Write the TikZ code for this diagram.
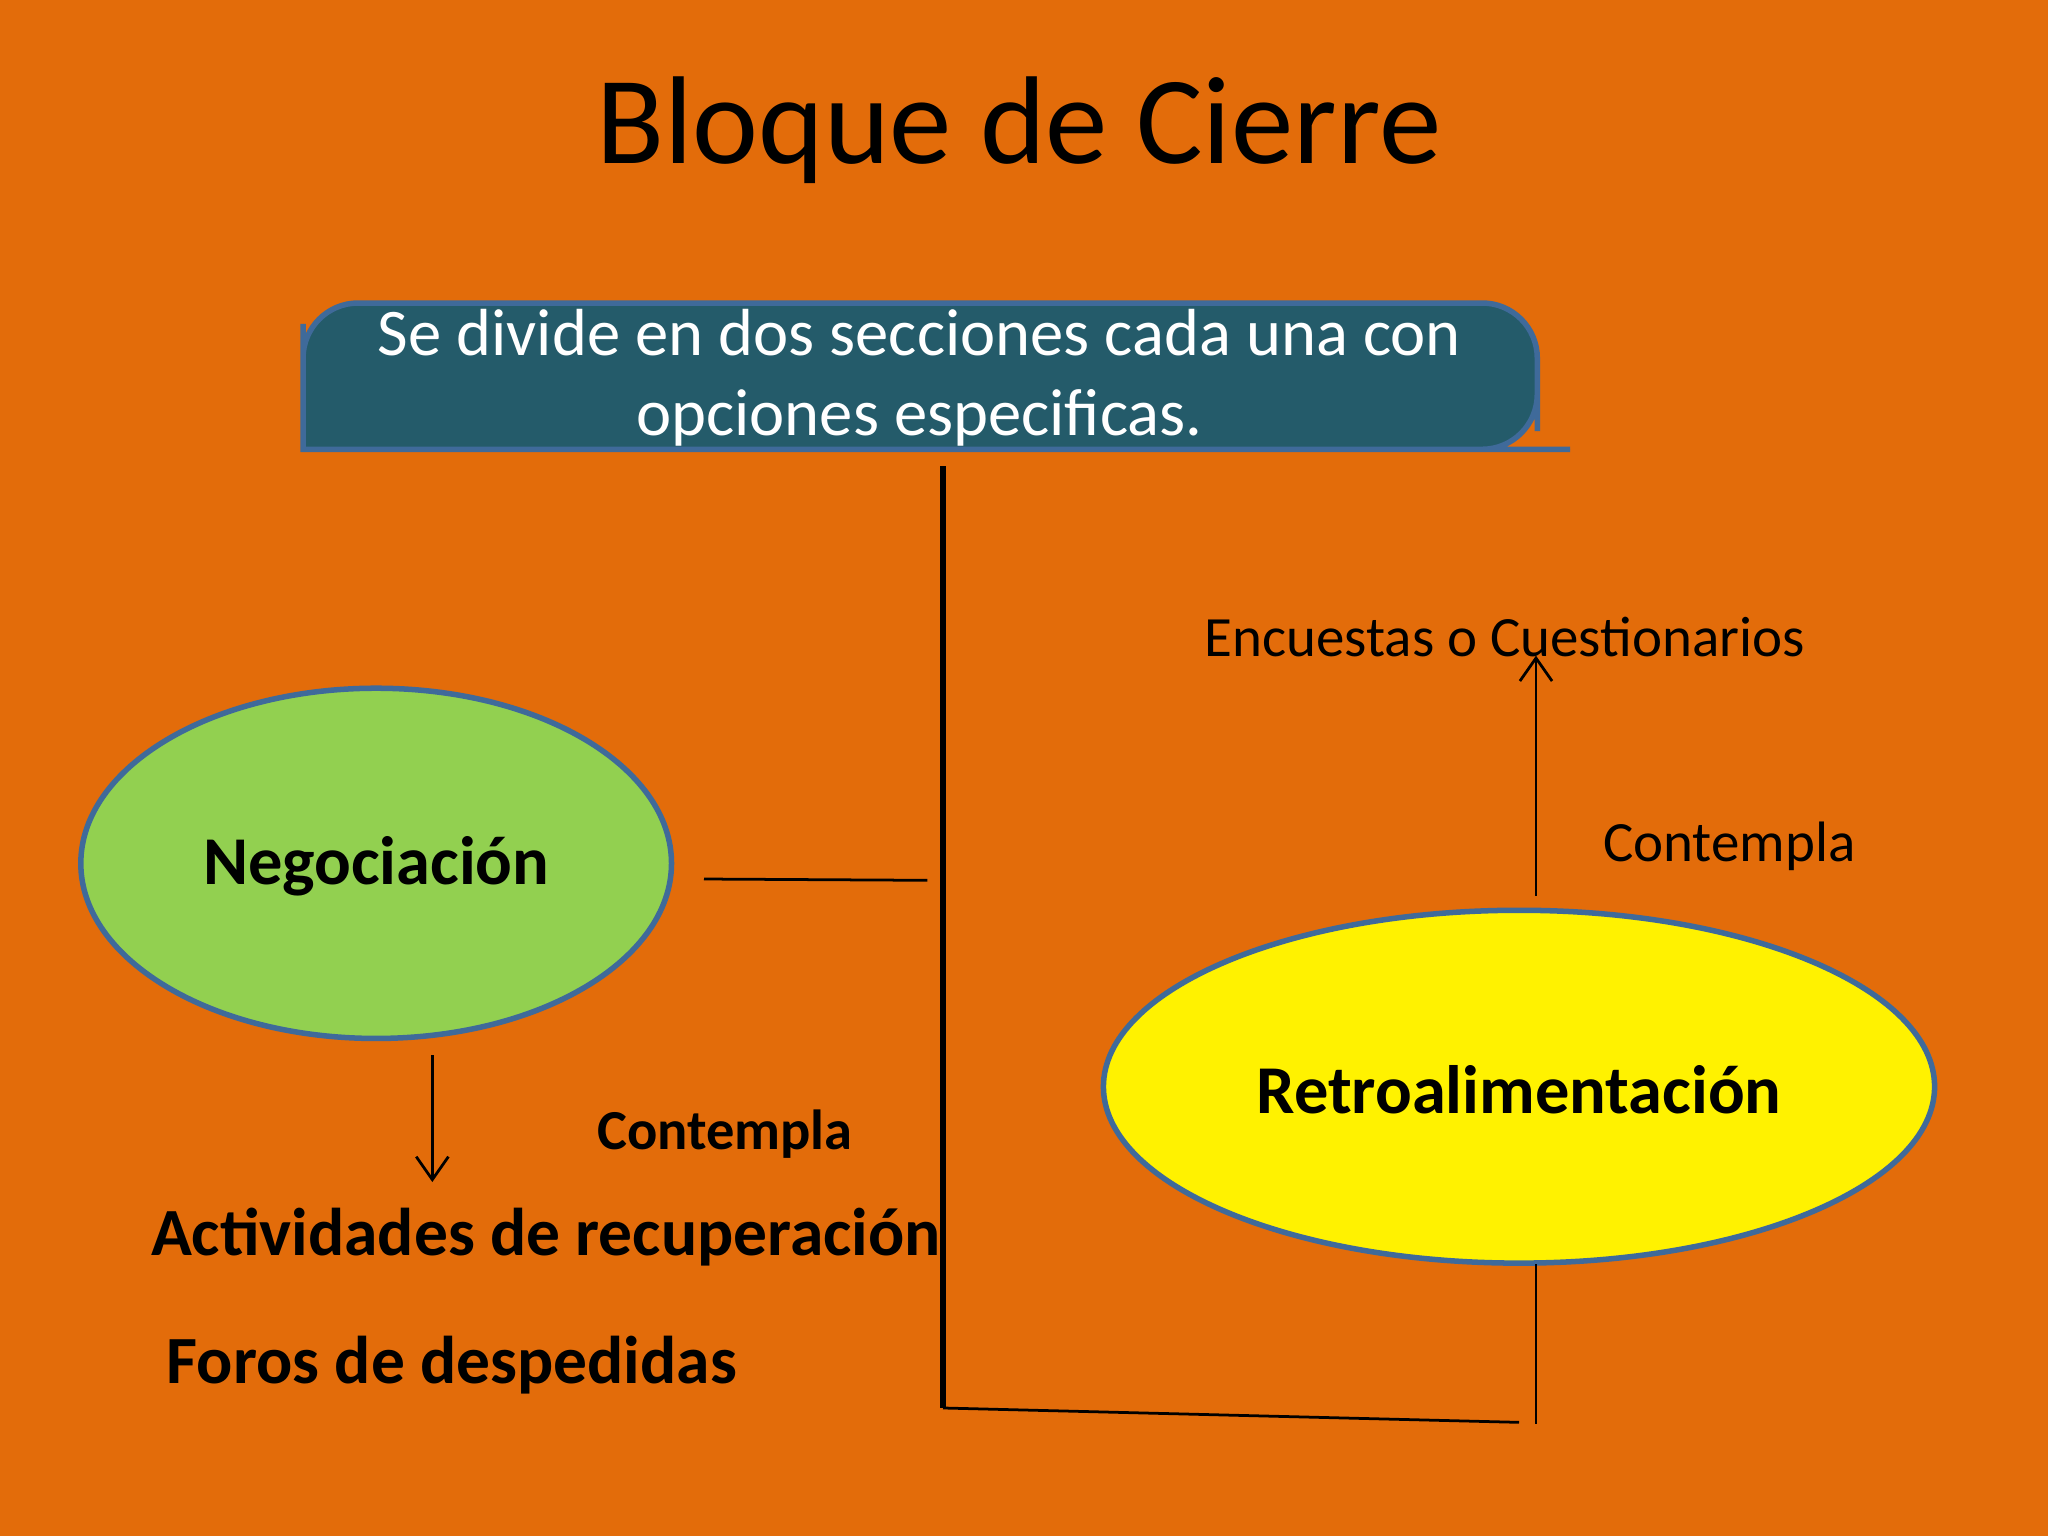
\documentclass[tikz,border=0pt]{standalone}
\usepackage{fontspec}
\setmainfont{Carlito}
\usetikzlibrary{shapes.geometric,arrows.meta}
\definecolor{bg}{HTML}{E36C0A}
\definecolor{teal}{HTML}{245B6A}
\definecolor{edge}{HTML}{3F6A9A}
\definecolor{grn}{HTML}{92D050}
\begin{document}
\begin{tikzpicture}[x=0.01cm,y=-0.01cm,
  ell/.style={ellipse,draw=edge,line width=1.2pt,inner sep=0pt},
  lbl/.style={font=\fontsize{14.9}{18}\selectfont\bfseries},
  thin/.style={line width=0.6pt}]
\fill[bg] (0,0) rectangle (1568,1176);
\useasboundingbox (0,0) rectangle (1568,1176);
\node (title) at (780,100) {\fontsize{27.2}{33}\selectfont Bloque de Cierre};
\fill[teal,draw=edge,line width=1.2pt] (232,344) -- (232,248) [rounded corners=12pt] -- (232,232) -- (1177,232) [sharp corners] -- (1177,330) [rounded corners=12pt] -- (1177,344) -- (1160,344) [sharp corners] -- cycle;
\node[text=white,align=center,font=\fontsize{14.5}{17.5}\selectfont] (box) at (704,289) {Se divide en dos secciones cada una con\\opciones especificas.};
\node[ell,fill=grn,minimum width=4.52cm,minimum height=2.68cm] (neg) at (288,661) {};
\node[lbl] at (288,663) {Negociación};
\node[ell,fill=yellow,minimum width=6.36cm,minimum height=2.70cm] (ret) at (1163,832) {};
\node[lbl] at (1163,834) {Retroalimentación};
\coordinate (vt) at (722,357); \coordinate (vb) at (722,1078);
\draw[line width=1.2pt] (vt) -- (vb);
\coordinate (bb) at (1163,1089);
\draw[thin] (vb) -- (bb);
\coordinate (rb1) at (1176,968); \coordinate (rb2) at (1176,1090);
\draw[thin] (rb1) -- (rb2);
\coordinate (h1) at (539,673); \coordinate (h2) at (710,674);
\draw[thin] (h1) -- (h2);
\coordinate (a1) at (331,808); \coordinate (a2) at (331,905);
\draw[thin,-{Straight Barb[length=5pt,width=7pt]}] (a1) -- (a2);
\node[font=\fontsize{12.3}{15}\selectfont\bfseries] (c1) at (555,868) {Contempla};
\node[font=\fontsize{14.7}{18}\selectfont\bfseries] (act) at (418,947) {Actividades de recuperación};
\node[font=\fontsize{14.7}{18}\selectfont\bfseries] (foros) at (346,1045) {Foros de despedidas};
\coordinate (u1) at (1176,686);
\node[font=\fontsize{12.4}{15}\selectfont] (enc) at (1152,488) {Encuestas o Cuestionarios};
\coordinate (u2) at (1176,502);
\draw[thin,-{Straight Barb[length=5pt,width=7pt]}] (u1) -- (u2);
\node[font=\fontsize{12.4}{15}\selectfont] (c2) at (1324,648) {Contempla};
\end{tikzpicture}
\end{document}
